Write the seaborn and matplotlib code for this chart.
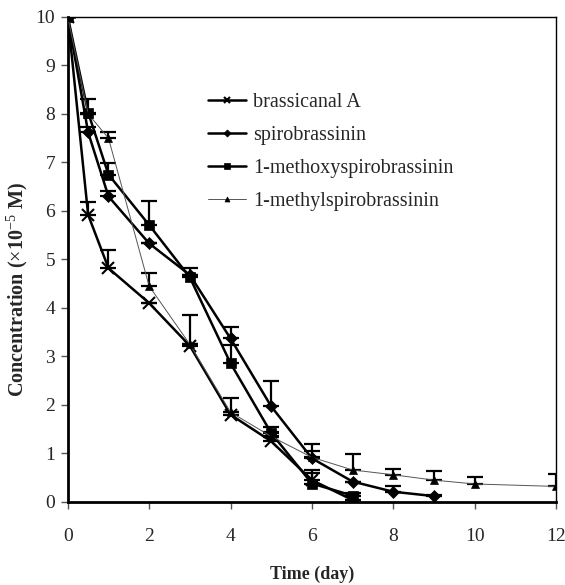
import numpy as np
import pandas as pd
import matplotlib
matplotlib.use("Agg")
import matplotlib.pyplot as plt
import seaborn as sns

# Data (concentration x10^-5 M vs time in days)
t_brassicanal = [0, 0.5, 1, 2, 3, 4, 5, 6, 7]
c_brassicanal = [10, 5.92, 4.82, 4.1, 3.22, 1.8, 1.25, 0.45, 0.04]
e_brassicanal = [0, 0.27, 0.38, 0, 0.63, 0.35, 0.08, 0.15, 0]

t_spiro = [0, 0.5, 1, 2, 3, 4, 5, 6, 7, 8, 9]
c_spiro = [10, 7.62, 6.3, 5.33, 4.68, 3.37, 1.97, 0.9, 0.42, 0.21, 0.12]
e_spiro = [0, 0.12, 0.12, 0, 0, 0.24, 0.52, 0.15, 0, 0.11, 0.03]

t_methoxy = [0, 0.5, 1, 2, 3, 4, 5, 6, 7]
c_methoxy = [10, 8.03, 6.75, 5.71, 4.63, 2.86, 1.42, 0.38, 0.13]
e_methoxy = [0, 0.27, 0.23, 0.5, 0.2, 0.38, 0.12, 0.27, 0.05]

t_methyl = [0, 0.5, 1, 2, 3, 4, 5, 6, 7, 8, 9, 10, 12]
c_methyl = [10, 8.0, 7.5, 4.45, 3.25, 1.85, 1.35, 0.92, 0.66, 0.56, 0.45, 0.37, 0.32]
e_methyl = [0, 0, 0.12, 0.28, 0, 0, 0.1, 0.28, 0.33, 0.12, 0.19, 0.14, 0.25]

series = [
    ("brassicanal A", t_brassicanal, c_brassicanal, e_brassicanal, "x", 8, 1.8, "black"),
    ("spirobrassinin", t_spiro, c_spiro, e_spiro, "D", 6, 1.8, "black"),
    ("1-methoxyspirobrassinin", t_methoxy, c_methoxy, e_methoxy, "s", 7, 1.8, "black"),
    ("1-methylspirobrassinin", t_methyl, c_methyl, e_methyl, "^", 6, 0.7, "#555555"),
]

sns.set_style("ticks")
plt.rcParams['font.family'] = ['Liberation Serif', 'DejaVu Serif']
plt.rcParams['mathtext.fontset'] = 'custom'
plt.rcParams['mathtext.rm'] = 'Liberation Serif'
plt.rcParams['mathtext.bf'] = 'Liberation Serif:bold'

fig = plt.figure(figsize=(5.65, 5.85), dpi=100)
ax = fig.add_axes([0.120, 0.142, 0.864, 0.829])

for name, t, c, e, mk, ms, lw, col in series:
    df = pd.DataFrame({'t': t, 'c': c})
    ax.errorbar(t, c, yerr=[np.zeros(len(e)), e], fmt='none', ecolor='black',
                elinewidth=1.6, capsize=6, capthick=1.6, zorder=2)
    sns.lineplot(data=df, x='t', y='c', ax=ax, color=col, linewidth=lw,
                 marker=mk, markersize=ms, markeredgecolor='black',
                 markerfacecolor='black', markeredgewidth=1.5 if mk == 'x' else 0.5,
                 label=name, zorder=3)

ax.set_xlim(0, 12)
ax.set_ylim(0, 10)
ax.set_xticks(range(0, 13, 2))
ax.set_yticks(range(0, 11))
ax.tick_params(axis='both', labelsize=14, length=5, width=1, color='#555555', pad=4)
ax.tick_params(axis='x', pad=14)
for s in ax.spines.values():
    s.set_color('black')
    s.set_linewidth(1.0)
ax.spines['left'].set_linewidth(2.0)
ax.spines['bottom'].set_linewidth(2.0)

ax.set_xlabel("Time (day)", fontsize=13, fontweight='bold', labelpad=15)
ax.set_ylabel(r"Concentration ($\times$10$^{-5}$ M)", fontsize=14.5, fontweight='bold')
ax.yaxis.set_label_coords(-0.078, 0.437)

leg = ax.legend(loc='upper left', bbox_to_anchor=(0.25, 0.88), frameon=False,
                fontsize=14.5, handlelength=1.9, handletextpad=0.35, labelspacing=0.68,
                markerscale=0.6)

fig.savefig("out.png", dpi=100)
